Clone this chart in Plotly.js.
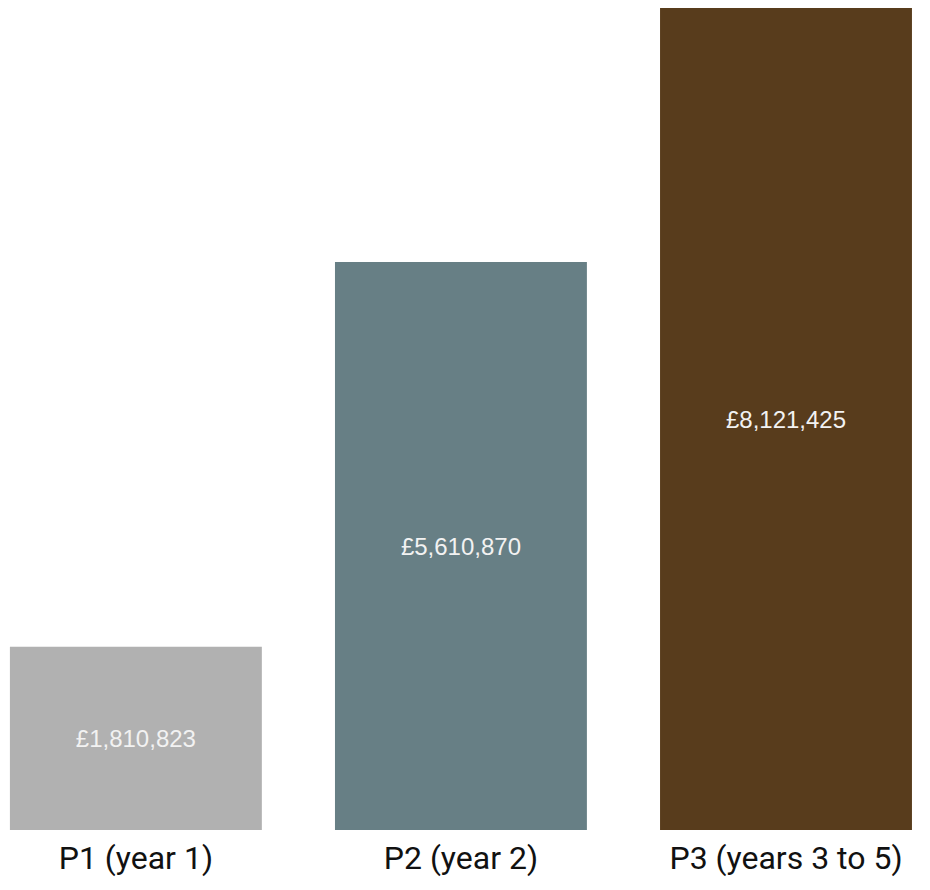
<!DOCTYPE html>
<html>
<head>
<meta charset="utf-8">
<script src="https://cdn.plot.ly/plotly-3.0.1.min.js"></script>
<style>html,body{margin:0;padding:0;background:#fff;}#chart{width:930px;height:890px;}</style>
</head>
<body>
<div id="chart"></div>
<script>
var categories = ["P1 (year 1)", "P2 (year 2)", "P3 (years 3 to 5)"];
var values = [1810823, 5610870, 8121425];
var valueLabels = ["£1,810,823", "£5,610,870", "£8,121,425"];
var barColors = ["#b1b1b1", "#677f85", "#583c1c"];

var trace = {
  type: "bar",
  x: categories,
  y: values,
  text: valueLabels,
  textposition: "inside",
  insidetextanchor: "middle",
  textangle: 0,
  textfont: {family: "Liberation Sans, Arial, sans-serif", size: 24, color: "#f2f2f2"},
  marker: {color: barColors, line: {width: 0}},
  width: 0.775,
  hoverinfo: "none"
};

var layout = {
  width: 930,
  height: 890,
  margin: {l: 0, r: 0, t: 8, b: 60},
  paper_bgcolor: "#ffffff",
  plot_bgcolor: "#ffffff",
  showlegend: false,
  xaxis: {
    type: "category",
    range: [-0.418, 2.443],
    showgrid: false, zeroline: false, showline: false,
    ticks: "", ticklen: 0,
    ticklabelstandoff: 6,
    tickfont: {family: "Roboto, Open Sans, sans-serif", size: 32, color: "#111111"}
  },
  yaxis: {
    range: [0, 8121425],
    showgrid: false, zeroline: false, showline: false,
    showticklabels: false, ticks: ""
  }
};

Plotly.newPlot("chart", [trace], layout, {displayModeBar: false, staticPlot: true});
</script>
</body>
</html>
